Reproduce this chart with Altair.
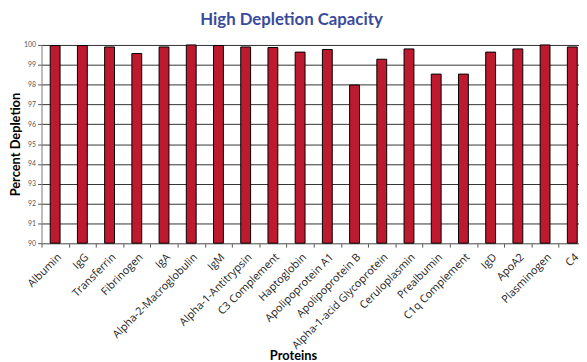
import altair as alt
import pandas as pd

proteins = ["Albumin", "IgG", "Transferrin", "Fibrinogen", "IgA", "Alpha-2-Macroglobulin",
            "IgM", "Alpha-1-Antitrypsin", "C3 Complement", "Haptoglobin", "Apolipoprotein A1",
            "Apolipoprotein B", "Alpha-1-acid Glycoprotein", "Ceruloplasmin", "Prealbumin",
            "C1q Complement", "IgD", "ApoA2", "Plasminogen", "C4"]
depletion = [99.97, 99.97, 99.9, 99.57, 99.9, 100.0,
             99.97, 99.9, 99.87, 99.64, 99.77,
             97.98, 99.28, 99.8, 98.53,
             98.53, 99.64, 99.8, 100.0, 99.9]
y_ticks = [90, 91, 92, 93, 94, 95, 96, 97, 98, 99, 100]

df = pd.DataFrame({"Protein": proteins, "Depletion": depletion})

FONT = "Lato"
LABEL_FONT = "Open Sans"

chart = alt.Chart(df).mark_bar(
    color="#be1a2f", stroke="#000000", strokeWidth=1, size=10
).encode(
    x=alt.X("Protein:N", sort=proteins,
            scale=alt.Scale(range=[0, 552], paddingInner=0, paddingOuter=0),
            axis=alt.Axis(title="Proteins", labelAngle=-45, labelAlign="right",
                          labelBaseline="top", labelFontSize=11, labelColor="#222",
                          labelFont=LABEL_FONT, labelPadding=4, labelOverlap=False,
                          tickBand="extent", tickSize=4, tickColor="#555",
                          domainColor="#888", domainWidth=1,
                          titleFont=FONT, titleFontSize=13, titleFontWeight="bold",
                          titleColor="#000", titleX=255, titleY=114,
                          titleBaseline="middle", titleAnchor="middle")),
    y=alt.Y("Depletion:Q",
            scale=alt.Scale(domain=[90, 100], zero=False, nice=False),
            axis=alt.Axis(title="Percent Depletion", values=y_ticks, format="d",
                          labelFontSize=7, labelColor="#555", labelFont=FONT,
                          tickSize=4, tickColor="#555", labelPadding=2,
                          domainColor="#888", grid=True, gridColor="#333",
                          gridWidth=1, gridOpacity=1,
                          titleFont=FONT, titleFontSize=13, titleFontWeight="bold",
                          titleColor="#000", titlePadding=1)),
    y2=alt.datum(90),
).properties(
    width=545, height=201,
    title=alt.TitleParams("High Depletion Capacity", fontSize=17, font=FONT,
                          fontWeight="bold", color="#3a4b9b", anchor="middle",
                          dx=-19, offset=12),
    padding={"left": 34, "top": 35, "right": 0, "bottom": 118},
    autosize=alt.AutoSizeParams(type="none"),
).configure_view(stroke=None).configure(background="white")

chart.save("out.html", embed_options={"renderer": "svg", "actions": False})
